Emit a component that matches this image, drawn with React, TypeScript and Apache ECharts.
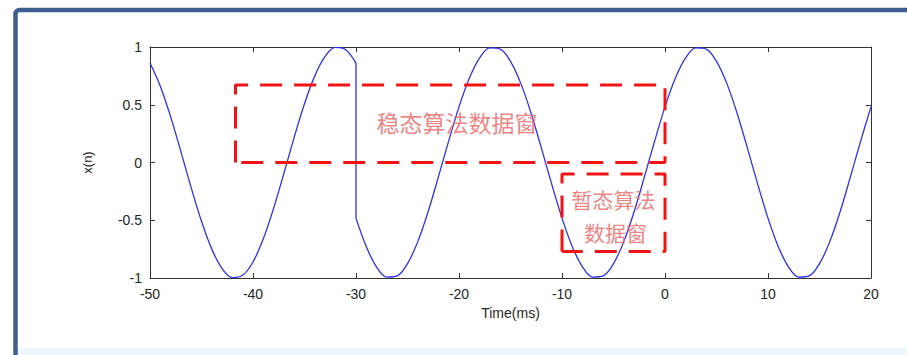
import React, { useEffect, useRef } from "react";
import * as echarts from "echarts";

// Signal before the switching instant (t = -50 .. -30 ms, 1 ms step)
const timeA = [-50, -49, -48, -47, -46, -45, -44, -43, -42, -41, -40, -39, -38, -37, -36, -35, -34, -33, -32, -31, -30];
const valuesA = [0.861, 0.661, 0.397, 0.094, -0.218, -0.509, -0.75, -0.918, -0.996, -0.976, -0.861, -0.661, -0.397, -0.094, 0.218, 0.509, 0.75, 0.918, 0.996, 0.976, 0.861];

// Signal after the switching instant (t = -30 .. 20 ms, 1 ms step)
const timeB = [-30, -29, -28, -27, -26, -25, -24, -23, -22, -21, -20, -19, -18, -17, -16, -15, -14, -13, -12, -11, -10, -9, -8, -7, -6, -5, -4, -3, -2, -1, 0, 1, 2, 3, 4, 5, 6, 7, 8, 9, 10, 11, 12, 13, 14, 15, 16, 17, 18, 19, 20];
const valuesB = [-0.482, -0.729, -0.905, -0.992, -0.982, -0.876, -0.685, -0.426, -0.125, 0.187, 0.482, 0.729, 0.905, 0.992, 0.982, 0.876, 0.685, 0.426, 0.125, -0.187, -0.482, -0.729, -0.905, -0.992, -0.982, -0.876, -0.685, -0.426, -0.125, 0.187, 0.482, 0.729, 0.905, 0.992, 0.982, 0.876, 0.685, 0.426, 0.125, -0.187, -0.482, -0.729, -0.905, -0.992, -0.982, -0.876, -0.685, -0.426, -0.125, 0.187, 0.482];

// Data windows (x range, y range)
const steadyBoxX = [-41.7, 0];
const steadyBoxY = [0, 0.67];
const transientBoxX = [-10, 0];
const transientBoxY = [-0.77, -0.1];

const steadyLabel = "稳态算法数据窗";
const transientLabel1 = "暂态算法";
const transientLabel2 = "数据窗";
const steadyLabelPos = [-20.2, 0.35];
const transientLabel1Pos = [-5, -0.32];
const transientLabel2Pos = [-4.8, -0.605];

const xTicks = { min: -50, max: 20, interval: 10 };
const yTicks = { min: -1, max: 1, interval: 0.5 };

function boxPath(xs: number[], ys: number[]) {
  return [
    [xs[0], ys[0]],
    [xs[0], ys[1]],
    [xs[1], ys[1]],
    [xs[1], ys[0]],
    [xs[0], ys[0]],
  ];
}

export default function App() {
  const ref = useRef<HTMLDivElement>(null);

  useEffect(() => {
    document.body.style.margin = "0";
    const chart = echarts.init(ref.current!, null, { renderer: "svg" });
    const partA = timeA.map((t, i) => [t, valuesA[i]]);
    const partB = timeB.map((t, i) => [t, valuesB[i]]);
    const jump = [partA[partA.length - 1], partB[0]];
    const axisColor = "#333333";
    const labelFont = { fontFamily: "Liberation Sans, Arial", fontSize: 14, color: "#262626" };
    const dashed = { color: "#f01414", width: 3, type: [22, 12] as any };
    const signalStyle = { color: "#3030ee", width: 1.3 };
    const redText = {
      show: true,
      position: "inside",
      fontFamily: "Noto Sans CJK SC",
      color: "#ea6464",
      align: "center",
      verticalAlign: "middle",
    };

    chart.setOption({
      animation: false,
      backgroundColor: "#ffffff",
      graphic: [
        {
          type: "rect",
          shape: { x: 18, y: 348, width: 900, height: 10 },
          style: { fill: "#eef7fb" },
          z: -10,
        },
        {
          type: "rect",
          shape: { x: 15.5, y: 10, width: 905, height: 360, r: 4 },
          style: { fill: "none", stroke: "#3e5f8e", lineWidth: 4.5 },
          z: -5,
        },
      ],
      grid: { left: 150, top: 47, right: 36, bottom: 77 },
      xAxis: [
        {
          type: "value",
          min: xTicks.min,
          max: xTicks.max,
          interval: xTicks.interval,
          name: "Time(ms)",
          nameLocation: "middle",
          nameGap: 27,
          nameTextStyle: { ...labelFont, fontSize: 14 },
          axisLine: { onZero: false, lineStyle: { color: axisColor, width: 1 } },
          axisTick: { inside: true, length: 5, lineStyle: { color: axisColor } },
          axisLabel: { ...labelFont, margin: 9 },
          splitLine: { show: false },
        },
        {
          type: "value",
          position: "top",
          min: xTicks.min,
          max: xTicks.max,
          interval: xTicks.interval,
          axisLine: { onZero: false, lineStyle: { color: axisColor, width: 1 } },
          axisTick: { inside: true, length: 5, lineStyle: { color: axisColor } },
          axisLabel: { show: false },
          splitLine: { show: false },
        },
      ],
      yAxis: [
        {
          type: "value",
          min: yTicks.min,
          max: yTicks.max,
          interval: yTicks.interval,
          name: "x(n)",
          nameLocation: "middle",
          nameGap: 56,
          nameRotate: 90,
          nameTextStyle: { ...labelFont, fontSize: 13 },
          axisLine: { show: true, onZero: false, lineStyle: { color: axisColor, width: 1 } },
          axisTick: { show: true, inside: true, length: 5, lineStyle: { color: axisColor } },
          axisLabel: { ...labelFont, margin: 8 },
          splitLine: { show: false },
        },
        {
          type: "value",
          position: "right",
          min: yTicks.min,
          max: yTicks.max,
          interval: yTicks.interval,
          axisLine: { show: true, onZero: false, lineStyle: { color: axisColor, width: 1 } },
          axisTick: { show: true, inside: true, length: 5, lineStyle: { color: axisColor } },
          axisLabel: { show: false },
          splitLine: { show: false },
        },
      ],
      series: [
        {
          type: "line",
          data: partA,
          symbol: "none",
          smooth: 0.35,
          lineStyle: signalStyle,
          z: 3,
        },
        {
          type: "line",
          data: jump,
          symbol: "none",
          lineStyle: signalStyle,
          z: 3,
        },
        {
          type: "line",
          data: partB,
          symbol: "none",
          smooth: 0.35,
          lineStyle: signalStyle,
          z: 3,
        },
        {
          type: "line",
          data: boxPath(steadyBoxX, steadyBoxY),
          symbol: "none",
          lineStyle: dashed,
          z: 4,
        },
        {
          type: "line",
          data: boxPath(transientBoxX, transientBoxY),
          symbol: "none",
          lineStyle: dashed,
          z: 4,
        },
        {
          type: "scatter",
          symbolSize: 1,
          itemStyle: { color: "rgba(0,0,0,0)" },
          data: [
            { value: steadyLabelPos, name: steadyLabel, label: { fontSize: 23 } },
            { value: transientLabel1Pos, name: transientLabel1, label: { fontSize: 21 } },
            { value: transientLabel2Pos, name: transientLabel2, label: { fontSize: 21 } },
          ],
          label: { ...redText, fontSize: 21, formatter: (p: any) => p.name },
          z: 5,
        },
      ],
    });
    return () => chart.dispose();
  }, []);

  return <div ref={ref} style={{ width: 907, height: 355 }} />;
}
